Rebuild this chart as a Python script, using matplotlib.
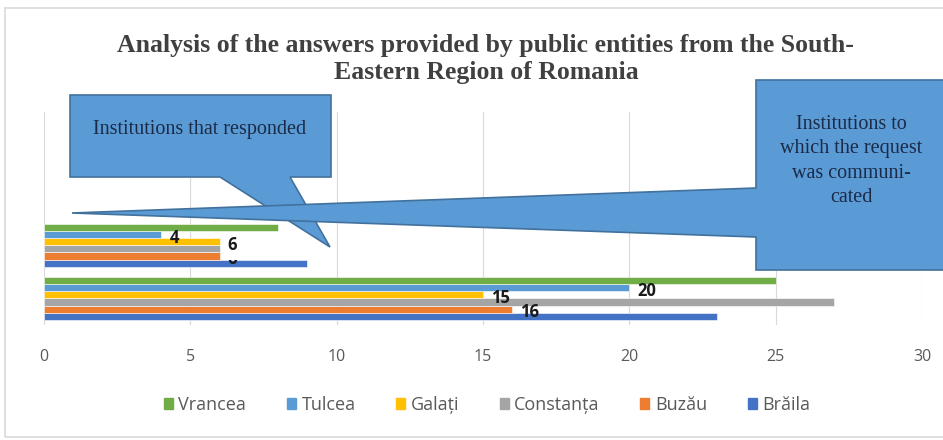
import matplotlib.pyplot as plt
from matplotlib.patches import Polygon, Rectangle
from matplotlib.transforms import Bbox, TransformedBbox
import numpy as np

# counties, bottom bar first inside each group
counties = ['Brăila', 'Buzău', 'Constanța', 'Galați', 'Tulcea', 'Vrancea']
communicated = [23, 16, 27, 15, 20, 25]
responded = [9, 6, 6, 6, 4, 8]
colors = ['#4472C4', '#ED7D31', '#A5A5A5', '#FFC000', '#5B9BD5', '#70AD47']
labelled = ['Tulcea', 'Galați', 'Buzău']   # series that carry data labels
x_ticks = [0, 5, 10, 15, 20, 25, 30]

W, H = 943, 440
fig = plt.figure(figsize=(W / 100, H / 100), dpi=100)


def px(x, y):
    # pixel position (origin top-left) -> figure fraction
    return (x / W, 1 - y / H)


ax = fig.add_axes([44 / W, 1 - 325 / H, (922 - 44) / W, (325 - 112) / H])

bar_h = 0.135
groups = [communicated, responded]   # category 0 and 1; 2 and 3 stay empty
for g, vals in enumerate(groups):
    for i, (name, v) in enumerate(zip(counties, vals)):
        y = g + (i - 2.5) * bar_h
        ax.barh(y, v, height=bar_h, color=colors[i], edgecolor='white',
                linewidth=0.4, zorder=3)
        if name in labelled:
            t = ax.text(v + 0.28, y - 0.06, str(v), fontsize=12, fontweight='bold',
                        family='Open Sans', color='#1a1a1a', ha='left', va='center',
                        zorder=5)
            if g == 1 and name == 'Buzău':
                # this label sits half under the bars, only its lower part shows
                t.set_clip_box(TransformedBbox(Bbox([[0, -0.5], [30, 0.73]]), ax.transData))
                t.set_clip_on(True)

ax.set_xlim(0, 30)
ax.set_ylim(-0.5, 3.5)
ax.set_xticks(x_ticks)
ax.set_xticklabels([str(v) for v in x_ticks], family='Open Sans', fontsize=11.5,
                   color='#595959')
ax.tick_params(axis='x', length=0, pad=17)
ax.set_yticks([])
ax.grid(axis='x', color='#D9D9D9', linewidth=0.8, zorder=0)
for s in ax.spines.values():
    s.set_visible(False)

# outer chart frame
fig.patches.append(Rectangle(px(5, 437), 950 / W, 429 / H, transform=fig.transFigure,
                             fill=False, edgecolor='#D9D9D9', linewidth=1.2))

fig.text(*px(486, 59), 'Analysis of the answers provided by public entities from the South-\n'
         'Eastern Region of Romania', ha='center', va='center', family='Liberation Serif',
         fontsize=18.5, fontweight='bold', color='#404040', linespacing=1.2)

# callout shapes
fill, edge = '#5B9BD5', '#41719C'
left_pts = [(70, 95), (331, 95), (331, 177), (290, 177), (330, 247), (220, 177), (70, 177)]
right_pts = [(756, 80), (960, 80), (960, 270), (756, 270), (756, 237), (72, 213), (756, 188)]
for pts, z in [(left_pts, 6), (right_pts, 7)]:
    fig.patches.append(Polygon([px(*p) for p in pts], closed=True, transform=fig.transFigure,
                               facecolor=fill, edgecolor=edge, linewidth=1.2, zorder=z))

fig.text(*px(200, 129), 'Institutions that responded', ha='center', va='center',
         family='Liberation Serif', fontsize=14.5, color='#1B2A47', zorder=8)
fig.text(*px(851, 161), 'Institutions to\nwhich the request\nwas communi-\ncated',
         ha='center', va='center', family='Liberation Serif', fontsize=14.5,
         color='#1B2A47', linespacing=1.4, zorder=8)

order = ['Vrancea', 'Tulcea', 'Galați', 'Constanța', 'Buzău', 'Brăila']
handles = [Rectangle((0, 0), 1, 1, color=colors[counties.index(n)]) for n in order]
fig.legend(handles, order, loc='center', bbox_to_anchor=px(487, 405), ncol=6,
           frameon=False, handlelength=0.5, handleheight=0.5, handletextpad=0.3,
           columnspacing=2.25, prop={'family': 'Open Sans', 'size': 13},
           labelcolor='#595959')

fig.savefig('out.png', dpi=100)
